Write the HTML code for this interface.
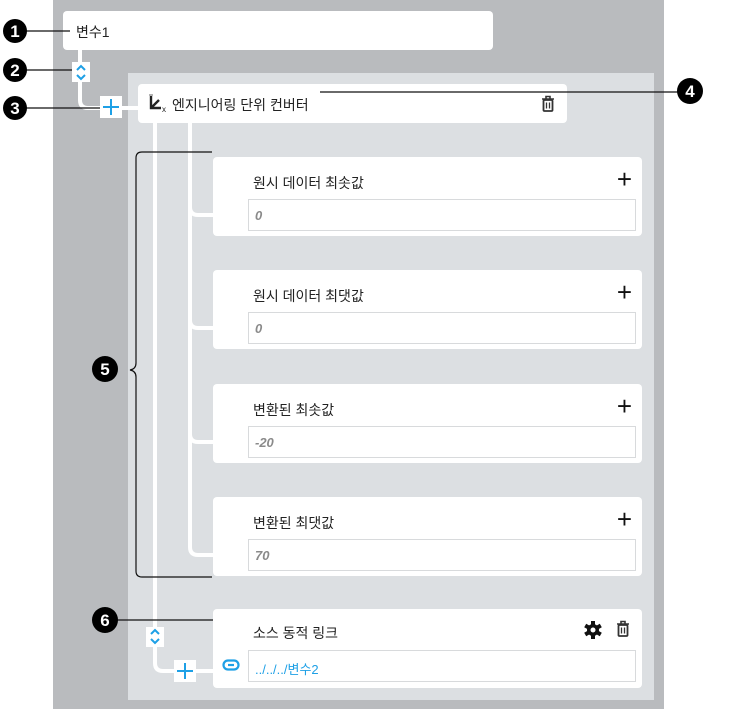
<!DOCTYPE html>
<html><head><meta charset="utf-8"><style>
*{margin:0;padding:0;box-sizing:border-box}
body{width:736px;height:709px;background:#fff;position:relative;overflow:hidden;font-family:"Liberation Sans","Noto Sans CJK KR",sans-serif;color:#222}
.a{position:absolute}
.card{position:absolute;background:#fff;border-radius:4px}
.lbl{position:absolute;font-size:14px;color:#222}
.inp{position:absolute;left:35px;width:388px;height:32px;border:1px solid #d8dadc;background:#fff;font-size:13px;font-style:italic;font-weight:bold;color:#8a8a8a;padding:8px 0 0 6px}
.plus{position:absolute;right:10px;top:12px;font-size:26px;line-height:20px;font-weight:300;color:#111}
</style></head><body>
<div class="a" style="left:53px;top:0;width:611px;height:709px;background:#b9bbbe"></div>
<div class="a" style="left:128px;top:73px;width:526px;height:627px;background:#dcdfe2"></div>
<div class="card" style="left:63px;top:11px;width:430px;height:39px"><div class="lbl" style="left:13px;top:11px">변수1</div></div>
<div class="card" style="left:138px;top:84px;width:429px;height:39px">
<svg class="a" style="left:9px;top:10px" width="22" height="20"><path d="M4 2 V14 H14 M4 14 L12 6" stroke="#222" stroke-width="2.4" fill="none"/><path d="M2 1 h4" stroke="#666" stroke-width="1"/><text x="15" y="18" font-size="8" font-family="Liberation Sans" fill="#222">x</text></svg>
<div class="lbl" style="left:34px;top:11px">엔지니어링 단위 컨버터</div>
<svg class="a" style="left:403px;top:11px" width="14" height="18"><path d="M1 4 H13 M5 4 V1.5 H9 V4" stroke="#333" stroke-width="1.6" fill="none"/><rect x="2.5" y="5" width="9" height="11" rx="1" fill="none" stroke="#333" stroke-width="1.8"/><path d="M5.5 7.5 V13.5 M8.5 7.5 V13.5" stroke="#333" stroke-width="1.3"/></svg></div>
<svg class="a" style="left:0;top:0" width="736" height="709">
<g fill="none" stroke="#fff" stroke-width="4">
<path d="M80 50 V100 q0 8 8 8 H140"/>
<path d="M155 123 V663 q0 8 8 8 H215"/>
<path d="M190 123 V207 q0 8 8 8 H215 M190 200 V320 q0 8 8 8 H215 M190 320 V434 q0 8 8 8 H215 M190 430 V547 q0 8 8 8 H215"/>
</g>
<g fill="none" stroke="#111" stroke-width="1.2">
<path d="M212 152 H142 q-6 0 -6 6 V363 q0 6 -6 7 q6 1 6 7 V571 q0 6 6 6 H212"/>
<path d="M15 31 H70 M15 70 H72 M15 108 H100 M320 92 H690 M105 620 H220"/>
</g>
<g font-family="Liberation Sans,sans-serif" font-weight="bold" font-size="17" fill="#fff" text-anchor="middle">
<circle cx="15" cy="31" r="12" fill="#000"/><text x="15" y="37">1</text>
<circle cx="15" cy="70" r="12" fill="#000"/><text x="15" y="76">2</text>
<circle cx="15" cy="108" r="12" fill="#000"/><text x="15" y="114">3</text>
<circle cx="690" cy="91" r="13" fill="#000"/><text x="690" y="97">4</text>
<circle cx="105" cy="369" r="13" fill="#000"/><text x="105" y="375">5</text>
<circle cx="105" cy="620" r="13" fill="#000"/><text x="105" y="626">6</text>
</g>
<g>
<rect x="72" y="62" width="18" height="20" fill="#fff"/>
<path d="M77 70 l4 -4 l4 4 M77 75 l4 4 l4 -4" stroke="#1ea0e6" stroke-width="2" fill="none"/>
<rect x="100" y="96" width="22" height="22" fill="#fff"/>
<path d="M111 99 V115 M103 107 H119" stroke="#1ea0e6" stroke-width="2"/>
<rect x="146" y="627" width="18" height="20" fill="#fff"/>
<path d="M151 634 l4 -4 l4 4 M151 639 l4 4 l4 -4" stroke="#1ea0e6" stroke-width="2" fill="none"/>
<rect x="174" y="660" width="22" height="22" fill="#fff"/>
<path d="M185 663 V679 M177 671 H193" stroke="#1ea0e6" stroke-width="2"/>
</g>
</svg>
<div class="card" style="left:213px;top:157px;width:429px;height:79px"><div class="lbl" style="left:40px;top:16px">원시 데이터 최솟값</div><div class="plus">+</div><div class="inp" style="top:42px">0</div></div>
<div class="card" style="left:213px;top:270px;width:429px;height:79px"><div class="lbl" style="left:40px;top:16px">원시 데이터 최댓값</div><div class="plus">+</div><div class="inp" style="top:42px">0</div></div>
<div class="card" style="left:213px;top:384px;width:429px;height:79px"><div class="lbl" style="left:40px;top:16px">변환된 최솟값</div><div class="plus">+</div><div class="inp" style="top:42px">-20</div></div>
<div class="card" style="left:213px;top:497px;width:429px;height:79px"><div class="lbl" style="left:40px;top:16px">변환된 최댓값</div><div class="plus">+</div><div class="inp" style="top:42px">70</div></div>
<div class="card" style="left:213px;top:609px;width:429px;height:79px"><div class="lbl" style="left:40px;top:14px">소스 동적 링크</div>
<svg class="a" style="left:371px;top:12px" width="18" height="18" viewBox="-9 -9 18 18"><g fill="#111"><circle r="6"/><g id="t"><rect x="-2" y="-9" width="4" height="18"/></g><rect x="-2" y="-9" width="4" height="18" transform="rotate(60)"/><rect x="-2" y="-9" width="4" height="18" transform="rotate(120)"/></g><circle r="2.5" fill="#fff"/></svg>
<svg class="a" style="left:403px;top:11px" width="14" height="18"><path d="M1 4 H13 M5 4 V1.5 H9 V4" stroke="#333" stroke-width="1.6" fill="none"/><rect x="2.5" y="5" width="9" height="11" rx="1" fill="none" stroke="#333" stroke-width="1.8"/><path d="M5.5 7.5 V13.5 M8.5 7.5 V13.5" stroke="#333" stroke-width="1.3"/></svg>
<svg class="a" style="left:9px;top:50px" width="18" height="12"><rect x="1.5" y="1.5" width="15" height="9" rx="4.5" fill="none" stroke="#1ea0e6" stroke-width="2.2"/><path d="M6 6 H12" stroke="#1ea0e6" stroke-width="2.2"/></svg>
<div class="inp" style="top:41px;font-style:normal;font-weight:normal;color:#1ea0e6">../../../변수2</div></div>
</body></html>
